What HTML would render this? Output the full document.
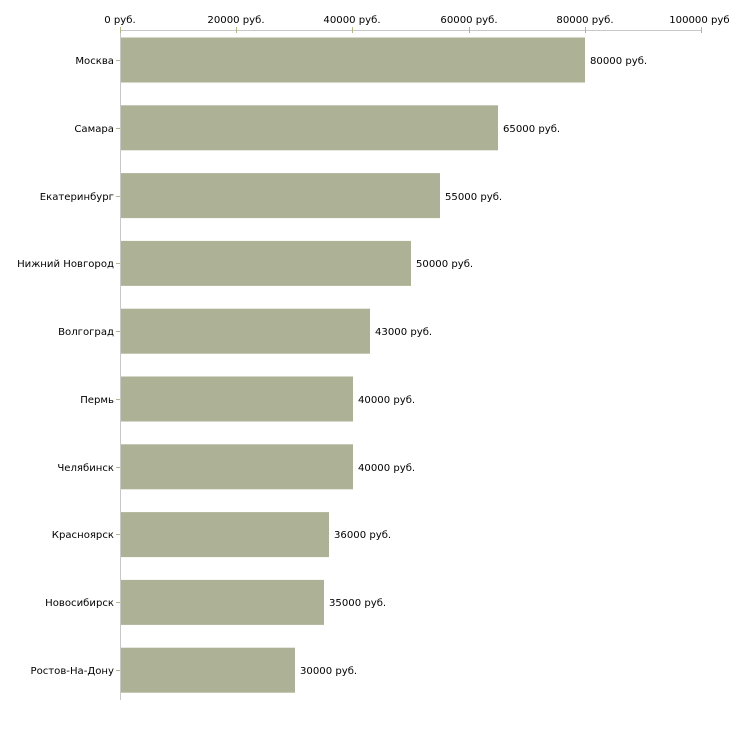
<!DOCTYPE html>
<html><head><style>body{margin:0;background:#fff}svg{display:block}text{font-family:"DejaVu Sans",sans-serif;font-size:10.1px;fill:#000}</style></head><body>
<svg width="730" height="730" viewBox="0 0 730 730">
<line x1="120" y1="30.5" x2="701" y2="30.5" stroke="#c8c8c8"/>
<line x1="120.5" y1="30" x2="120.5" y2="700" stroke="#c8c8c8"/>
<g stroke="#b5b58a">
<line x1="120.5" y1="27" x2="120.5" y2="33"/><line x1="236.5" y1="27" x2="236.5" y2="33"/><line x1="352.5" y1="27" x2="352.5" y2="33"/><line x1="469.5" y1="27" x2="469.5" y2="33"/><line x1="585.5" y1="27" x2="585.5" y2="33"/><line x1="701.5" y1="27" x2="701.5" y2="33"/>
</g>
<g text-anchor="middle">
<text x="120" y="23">0 руб.</text><text x="236" y="23">20000 руб.</text><text x="352" y="23">40000 руб.</text><text x="469" y="23">60000 руб.</text><text x="585" y="23">80000 руб.</text><text x="701" y="23">100000 руб.</text>
</g>
<g fill="#adb296">
<rect x="121" y="37.5" width="464" height="45"/>
<rect x="121" y="105.3" width="377" height="45"/>
<rect x="121" y="173.1" width="319" height="45"/>
<rect x="121" y="240.9" width="290" height="45"/>
<rect x="121" y="308.7" width="249" height="45"/>
<rect x="121" y="376.5" width="232" height="45"/>
<rect x="121" y="444.3" width="232" height="45"/>
<rect x="121" y="512.1" width="208" height="45"/>
<rect x="121" y="579.9" width="203" height="45"/>
<rect x="121" y="647.7" width="174" height="45"/>
</g>
<g stroke="#b5b58a">
<line x1="116" y1="60.5" x2="120" y2="60.5"/><line x1="116" y1="128.5" x2="120" y2="128.5"/><line x1="116" y1="196.5" x2="120" y2="196.5"/><line x1="116" y1="263.5" x2="120" y2="263.5"/><line x1="116" y1="331.5" x2="120" y2="331.5"/><line x1="116" y1="399.5" x2="120" y2="399.5"/><line x1="116" y1="467.5" x2="120" y2="467.5"/><line x1="116" y1="534.5" x2="120" y2="534.5"/><line x1="116" y1="602.5" x2="120" y2="602.5"/><line x1="116" y1="670.5" x2="120" y2="670.5"/>
</g>
<g text-anchor="end">
<text x="114" y="64">Москва</text><text x="114" y="132">Самара</text><text x="114" y="200">Екатеринбург</text><text x="114" y="267">Нижний Новгород</text><text x="114" y="335">Волгоград</text><text x="114" y="403">Пермь</text><text x="114" y="471">Челябинск</text><text x="114" y="538">Красноярск</text><text x="114" y="606">Новосибирск</text><text x="114" y="674">Ростов-На-Дону</text>
</g>
<g>
<text x="590" y="64">80000 руб.</text><text x="503" y="132">65000 руб.</text><text x="445" y="200">55000 руб.</text><text x="416" y="267">50000 руб.</text><text x="375" y="335">43000 руб.</text><text x="358" y="403">40000 руб.</text><text x="358" y="471">40000 руб.</text><text x="334" y="538">36000 руб.</text><text x="329" y="606">35000 руб.</text><text x="300" y="674">30000 руб.</text>
</g>
</svg>
</body></html>
